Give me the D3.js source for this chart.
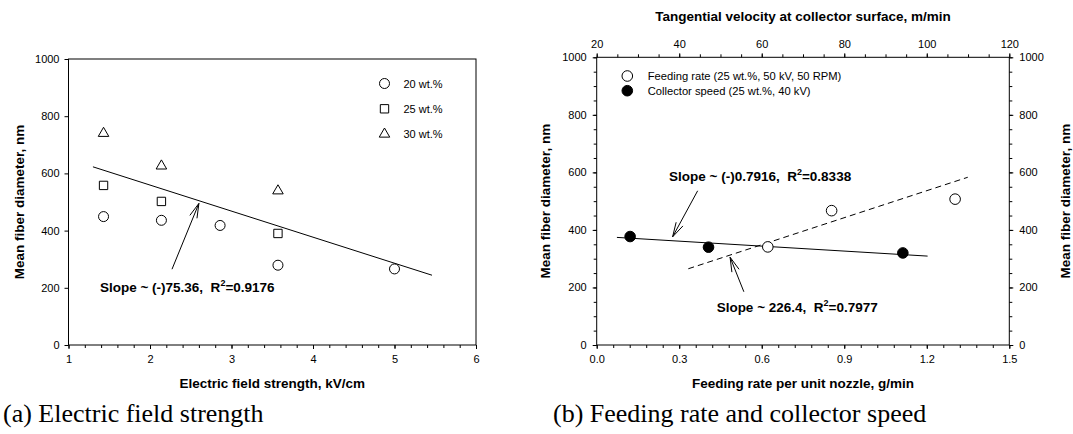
<!DOCTYPE html>
<html><head><meta charset="utf-8">
<script src="https://cdn.jsdelivr.net/npm/d3@7"></script>
<style>
html,body{margin:0;padding:0;background:#fff;}
svg{display:block;font-family:Arial,"Liberation Sans",sans-serif;}
text{white-space:pre;}
</style></head>
<body>
<svg id="c" width="1073" height="434"></svg>
<script>
// ---- Data: panel (a) ----
const fieldStrength20 = [1.43, 2.14, 2.86, 3.57, 5.0];
const diam20 = [449, 436, 418, 279, 266];
const fieldStrength25 = [1.43, 2.14, 3.57];
const diam25 = [558, 502, 390];
const fieldStrength30 = [1.43, 2.14, 3.57];
const diam30 = [740, 626, 539];
const fitA_x = [1.3, 5.46];
const fitA_y = [623, 244];
const legendA = ["20 wt.%", "25 wt.%", "30 wt.%"];
const xTicksA = [1, 2, 3, 4, 5, 6];
const yTicks = [0, 200, 400, 600, 800, 1000];

// ---- Data: panel (b) ----
const feedRate = [0.622, 0.854, 1.303];          // g/min (bottom axis)
const diamFeed = [341, 467, 507];
const tangVel = [28.1, 47.1, 94.2];             // m/min (top axis)
const diamVel = [377, 340, 320];
const fitFeed_x = [0.333, 1.349];
const fitFeed_y = [265, 583];
const fitVel_x = [24.9, 100.2];
const fitVel_y = [374, 309];
const xTicksB = [0.0, 0.3, 0.6, 0.9, 1.2, 1.5];
const xTopTicksB = [20, 40, 60, 80, 100, 120];
const legendB = ["Feeding rate (25 wt.%, 50 kV, 50 RPM)", "Collector speed (25 wt.%, 40 kV)"];

const svg = d3.select("#c");
const TITLE = 13.5;

function drawAxis(g, axis) {
  g.call(axis);
  g.select(".domain").remove();
  g.selectAll("line").attr("stroke", "#000");
  g.selectAll("text").attr("font-size", 11).attr("fill", "#000");
}

// ================= Panel (a) =================
const xA = d3.scaleLinear().domain([1, 6]).range([68.5, 476]);
const yA = d3.scaleLinear().domain([0, 1000]).range([345, 59]);
const gA = svg.append("g");

gA.append("rect").attr("x", xA(1)).attr("y", yA(1000)).attr("width", xA(6) - xA(1)).attr("height", yA(0) - yA(1000))
  .attr("fill", "none").attr("stroke", "#000").attr("stroke-width", 1);

drawAxis(gA.append("g").attr("transform", `translate(0,${yA(0)})`),
  d3.axisBottom(xA).tickValues(d3.range(1, 6.001, 0.2)).tickSize(3).tickSizeOuter(0).tickFormat(""));
drawAxis(gA.append("g").attr("transform", `translate(0,${yA(0)})`),
  d3.axisBottom(xA).tickValues(xTicksA).tickSize(4).tickSizeOuter(0).tickPadding(6).tickFormat(d3.format("d")));
drawAxis(gA.append("g").attr("transform", `translate(${xA(1)},0)`),
  d3.axisLeft(yA).tickValues(yTicks).tickSize(4).tickSizeOuter(0).tickPadding(5).tickFormat(d3.format("d")));

gA.append("text").attr("x", (xA(1) + xA(6)) / 2).attr("y", 388).attr("text-anchor", "middle")
  .attr("font-size", TITLE).attr("font-weight", "bold").text("Electric field strength, kV/cm");
gA.append("text").attr("transform", `translate(24,${(yA(0) + yA(1000)) / 2}) rotate(-90)`).attr("text-anchor", "middle")
  .attr("font-size", TITLE).attr("font-weight", "bold").text("Mean fiber diameter, nm");

gA.append("line").attr("x1", xA(fitA_x[0])).attr("y1", yA(fitA_y[0])).attr("x2", xA(fitA_x[1])).attr("y2", yA(fitA_y[1]))
  .attr("stroke", "#000").attr("stroke-width", 1);

const circleSym = d3.symbol().type(d3.symbolCircle).size(Math.PI * 25);
const squareSym = d3.symbol().type(d3.symbolSquare).size(70);
const triSym = d3.symbol().type(d3.symbolTriangle).size(48);

gA.selectAll(".c20").data(fieldStrength20.map((x, i) => [x, diam20[i]])).join("path")
  .attr("d", circleSym).attr("transform", d => `translate(${xA(d[0])},${yA(d[1])})`)
  .attr("fill", "#fff").attr("stroke", "#000").attr("stroke-width", 1);
gA.selectAll(".c25").data(fieldStrength25.map((x, i) => [x, diam25[i]])).join("path")
  .attr("d", squareSym).attr("transform", d => `translate(${xA(d[0])},${yA(d[1])})`)
  .attr("fill", "#fff").attr("stroke", "#000").attr("stroke-width", 1);
gA.selectAll(".c30").data(fieldStrength30.map((x, i) => [x, diam30[i]])).join("path")
  .attr("d", triSym).attr("transform", d => `translate(${xA(d[0])},${yA(d[1])})`)
  .attr("fill", "#fff").attr("stroke", "#000").attr("stroke-width", 1);

const legSyms = [circleSym, squareSym, triSym];
legendA.forEach((t, i) => {
  const yy = 83.5 + i * 25.3;
  gA.append("path").attr("d", legSyms[i]).attr("transform", `translate(384.5,${yy})`)
    .attr("fill", "#fff").attr("stroke", "#000");
  gA.append("text").attr("x", 403.5).attr("y", yy + 4).attr("font-size", 11).text(t);
});

function arrow(g, x1, y1, x2, y2) {
  g.append("line").attr("x1", x1).attr("y1", y1).attr("x2", x2).attr("y2", y2).attr("stroke", "#000").attr("stroke-width", 1);
  const ang = Math.atan2(y1 - y2, x1 - x2);
  const L = 15, a = 0.26;
  [ang - a, ang + a].forEach(an => {
    g.append("line").attr("x1", x2).attr("y1", y2).attr("x2", x2 + L * Math.cos(an)).attr("y2", y2 + L * Math.sin(an))
      .attr("stroke", "#000").attr("stroke-width", 1);
  });
}
function slopeText(g, x, y, pre, r2) {
  const t = g.append("text").attr("x", x).attr("y", y).attr("font-size", TITLE).attr("font-weight", "bold");
  t.append("tspan").text(pre + "  R");
  t.append("tspan").attr("font-size", 9).attr("dy", -6).text("2");
  t.append("tspan").attr("dy", 6).text("=" + r2);
}
arrow(gA, xA(2.27), yA(265), xA(2.60), yA(495));
slopeText(gA, xA(1.386), yA(187), "Slope ~ (-)75.36,", "0.9176");

// ================= Panel (b) =================
const xB = d3.scaleLinear().domain([0, 1.5]).range([596.7, 1009.3]);
const xT = d3.scaleLinear().domain([20, 120]).range([596.7, 1009.3]);
const yB = d3.scaleLinear().domain([0, 1000]).range([345, 57.3]);
const gB = svg.append("g");

gB.append("rect").attr("x", xB(0)).attr("y", yB(1000)).attr("width", xB(1.5) - xB(0)).attr("height", yB(0) - yB(1000))
  .attr("fill", "none").attr("stroke", "#000").attr("stroke-width", 1);

drawAxis(gB.append("g").attr("transform", `translate(0,${yB(0)})`),
  d3.axisBottom(xB).tickValues(d3.range(0, 1.5001, 0.06)).tickSize(3).tickSizeOuter(0).tickFormat(""));
drawAxis(gB.append("g").attr("transform", `translate(0,${yB(0)})`),
  d3.axisBottom(xB).tickValues(xTicksB).tickSize(4).tickSizeOuter(0).tickPadding(6).tickFormat(d3.format(".1f")));
drawAxis(gB.append("g").attr("transform", `translate(0,${yB(1000)})`),
  d3.axisTop(xT).tickValues(d3.range(20, 120.001, 5)).tickSize(3).tickSizeOuter(0).tickFormat(""));
drawAxis(gB.append("g").attr("transform", `translate(0,${yB(1000)})`),
  d3.axisTop(xT).tickValues(xTopTicksB).tickSize(4).tickSizeOuter(0).tickPadding(5).tickFormat(d3.format("d")));
drawAxis(gB.append("g").attr("transform", `translate(${xB(0)},0)`),
  d3.axisLeft(yB).tickValues(d3.range(0, 1000.1, 50)).tickSize(3).tickSizeOuter(0).tickFormat(""));
drawAxis(gB.append("g").attr("transform", `translate(${xB(0)},0)`),
  d3.axisLeft(yB).tickValues(yTicks).tickSize(4).tickSizeOuter(0).tickPadding(6).tickFormat(d3.format("d")));
drawAxis(gB.append("g").attr("transform", `translate(${xB(1.5)},0)`),
  d3.axisRight(yB).tickValues(d3.range(0, 1000.1, 50)).tickSize(3).tickSizeOuter(0).tickFormat(""));
drawAxis(gB.append("g").attr("transform", `translate(${xB(1.5)},0)`),
  d3.axisRight(yB).tickValues(yTicks).tickSize(4).tickSizeOuter(0).tickPadding(6).tickFormat(d3.format("d")));

const midB = (xB(0) + xB(1.5)) / 2;
gB.append("text").attr("x", midB).attr("y", 388).attr("text-anchor", "middle")
  .attr("font-size", TITLE).attr("font-weight", "bold").text("Feeding rate per unit nozzle, g/min");
gB.append("text").attr("x", midB).attr("y", 21).attr("text-anchor", "middle")
  .attr("font-size", TITLE).attr("font-weight", "bold").text("Tangential velocity at collector surface, m/min");
gB.append("text").attr("transform", `translate(550,${(yB(0) + yB(1000)) / 2}) rotate(-90)`).attr("text-anchor", "middle")
  .attr("font-size", TITLE).attr("font-weight", "bold").text("Mean fiber diameter, nm");
gB.append("text").attr("transform", `translate(1070,${(yB(0) + yB(1000)) / 2}) rotate(-90)`).attr("text-anchor", "middle")
  .attr("font-size", TITLE).attr("font-weight", "bold").text("Mean fiber diameter, nm");

gB.append("line").attr("x1", xB(fitFeed_x[0])).attr("y1", yB(fitFeed_y[0])).attr("x2", xB(fitFeed_x[1])).attr("y2", yB(fitFeed_y[1]))
  .attr("stroke", "#000").attr("stroke-width", 1).attr("stroke-dasharray", "6,4");
gB.append("line").attr("x1", xT(fitVel_x[0])).attr("y1", yB(fitVel_y[0])).attr("x2", xT(fitVel_x[1])).attr("y2", yB(fitVel_y[1]))
  .attr("stroke", "#000").attr("stroke-width", 1);

const circB = d3.symbol().type(d3.symbolCircle).size(Math.PI * 5.3 * 5.3);
gB.selectAll(".fv").data(tangVel.map((x, i) => [x, diamVel[i]])).join("path")
  .attr("d", circB).attr("transform", d => `translate(${xT(d[0])},${yB(d[1])})`)
  .attr("fill", "#000").attr("stroke", "#000");
gB.selectAll(".ff").data(feedRate.map((x, i) => [x, diamFeed[i]])).join("path")
  .attr("d", circB).attr("transform", d => `translate(${xB(d[0])},${yB(d[1])})`)
  .attr("fill", "#fff").attr("stroke", "#000");

legendB.forEach((t, i) => {
  const yy = 76 + i * 14.7;
  gB.append("path").attr("d", circB).attr("transform", `translate(627.3,${yy})`)
    .attr("fill", i === 0 ? "#fff" : "#000").attr("stroke", "#000");
  gB.append("text").attr("x", 647.7).attr("y", yy + 4).attr("font-size", 11.2).text(t);
});

arrow(gB, xB(0.367), yB(536), xB(0.276), yB(376));
arrow(gB, xB(0.535), yB(185), xB(0.485), yB(305));
slopeText(gB, xB(0.263), yB(571), "Slope ~ (-)0.7916,", "0.8338");
slopeText(gB, xB(0.436), yB(114), "Slope ~ 226.4,", "0.7977");

svg.append("text").attr("x", 3).attr("y", 422).attr("font-family", "'Liberation Serif','Times New Roman',serif")
  .attr("font-size", 26).text("(a) Electric field strength");
svg.append("text").attr("x", 553).attr("y", 422).attr("font-family", "'Liberation Serif','Times New Roman',serif")
  .attr("font-size", 26).text("(b) Feeding rate and collector speed");
</script>
</body></html>
